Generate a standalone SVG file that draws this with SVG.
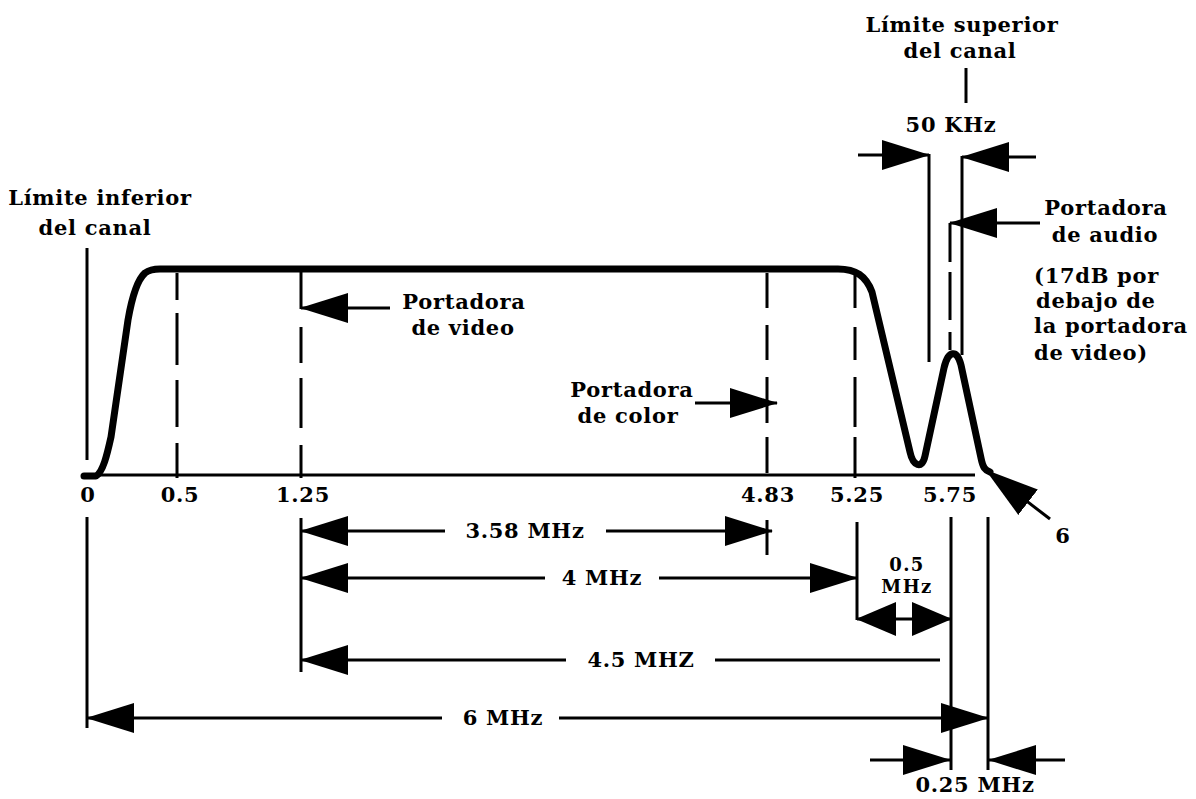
<svg xmlns="http://www.w3.org/2000/svg" width="1196" height="799" viewBox="0 0 1196 799">
<style>
text{font-family:"DejaVu Serif","Liberation Serif",serif;font-weight:bold;font-size:21px;letter-spacing:0.7px;fill:#000}
.m{text-anchor:middle}
.s{font-size:18px;letter-spacing:1.4px}
.ln{stroke:#000;stroke-width:3;fill:none}
.a{marker-end:url(#arr)}
.as{marker-end:url(#arrS)}
</style>
<defs>
<marker id="arr" markerUnits="userSpaceOnUse" viewBox="0 -16 48 32" markerWidth="48" markerHeight="32" refX="47" refY="0" orient="auto">
<path d="M0,-15 L48,0 L0,15 Z" fill="#000"/>
</marker>
<marker id="arrS" markerUnits="userSpaceOnUse" viewBox="0 -18 40 36" markerWidth="40" markerHeight="36" refX="39" refY="0" orient="auto">
<path d="M0,-17 L40,0 L0,17 Z" fill="#000"/>
</marker>
<marker id="arrL" markerUnits="userSpaceOnUse" viewBox="0 -18 54 36" markerWidth="54" markerHeight="36" refX="53" refY="0" orient="auto">
<path d="M0,-16 L54,0 L0,16 Z" fill="#000"/>
</marker>
</defs>
<rect width="1196" height="799" fill="#fff"/>

<g id="curve">
<path d="M84 476 L96 476 C103 472 107 455 111 437 L128 320 C132 297 137 280 145 273 C149 270 153 269 160 269 L838 269 C856 269 866 276 872 292 L910 452 C913 466 922 470 925 456 L944 368 C948 350 957 349 961 365 L981 458 C983 468 985 470 990 472" fill="none" stroke="#000" stroke-width="7" stroke-linejoin="round" stroke-linecap="round"/>
</g>

<g id="axis">
<line class="ln" x1="86" y1="475" x2="975" y2="475"/>
</g>

<g id="connectors">
<line class="ln" x1="87" y1="248" x2="87" y2="460"/>
<line class="ln" x1="177" y1="273" x2="177" y2="478" stroke-dasharray="27 13 52 15 47 16 35"/>
<line class="ln" x1="301" y1="269" x2="301" y2="309"/>
<line class="ln" x1="301" y1="327" x2="301" y2="478" stroke-dasharray="36 15 50 17 33"/>
<line class="ln" x1="767" y1="273" x2="767" y2="476" stroke-dasharray="35 17 35 17 46 14 36"/>
<line class="ln" x1="855" y1="275" x2="855" y2="478" stroke-dasharray="33 19 33 17 50 10 41"/>
<line class="ln" x1="950" y1="223" x2="950" y2="350" stroke-dasharray="39 10 48 12 20"/>
<line class="ln" x1="929" y1="154" x2="929" y2="362"/>
<line class="ln" x1="962" y1="156" x2="962" y2="355"/>
<line class="ln" x1="966" y1="68" x2="966" y2="103"/>
<line class="ln a" x1="858" y1="155" x2="929" y2="155"/>
<line class="ln a" x1="1036" y1="157" x2="962" y2="157"/>
<line class="ln a" x1="1040" y1="223" x2="950" y2="223"/>
<line class="ln a" x1="390" y1="308" x2="301" y2="308"/>
<line class="ln a" x1="695" y1="403" x2="777" y2="403"/>
<line class="ln" x1="1050" y1="519" x2="986" y2="470" marker-end="url(#arrL)"/>
<line class="ln" x1="87" y1="517" x2="87" y2="728"/>
<line class="ln" x1="301" y1="518" x2="301" y2="672"/>
<line class="ln" x1="767" y1="520" x2="767" y2="555"/>
<line class="ln" x1="857" y1="522" x2="857" y2="620"/>
<line class="ln" x1="951" y1="517" x2="951" y2="770"/>
<line class="ln" x1="988" y1="517" x2="988" y2="770"/>
<line class="ln a" x1="445" y1="531" x2="301" y2="531"/>
<line class="ln a" x1="606" y1="531" x2="772" y2="531"/>
<line class="ln a" x1="545" y1="578" x2="301" y2="578"/>
<line class="ln a" x1="659" y1="578" x2="857" y2="578"/>
<line class="ln a" x1="566" y1="660" x2="301" y2="660"/>
<line class="ln" x1="715" y1="660" x2="940" y2="660"/>
<line class="ln a" x1="442" y1="718" x2="87" y2="718"/>
<line class="ln a" x1="559" y1="718" x2="988" y2="718"/>
<line class="ln as" x1="905" y1="619" x2="857" y2="619"/>
<line class="ln as" x1="905" y1="619" x2="951" y2="619"/>
<line class="ln a" x1="870" y1="760" x2="950" y2="760"/>
<line class="ln a" x1="1065" y1="760" x2="989" y2="760"/>
</g>

<g id="label-upper-limit">
<text class="m" x="962" y="32">Límite superior</text>
<text class="m" x="960" y="58">del canal</text>
</g>
<g id="label-50khz"><text class="m" x="951" y="132">50 KHz</text></g>
<g id="label-lower-limit">
<text class="m" x="100" y="205">Límite inferior</text>
<text class="m" x="95" y="235">del canal</text>
</g>
<g id="label-video">
<text class="m" x="464" y="309">Portadora</text>
<text class="m" x="463" y="335">de video</text>
</g>
<g id="label-color">
<text class="m" x="632" y="397">Portadora</text>
<text class="m" x="628" y="423">de color</text>
</g>
<g id="label-audio">
<text class="m" x="1106" y="215">Portadora</text>
<text class="m" x="1105" y="242">de audio</text>
<text x="1034" y="283">(17dB por</text>
<text x="1036" y="308">debajo de</text>
<text x="1034" y="333">la portadora</text>
<text x="1034" y="360">de video)</text>
</g>
<g id="ticks">
<text class="m" x="88" y="502">0</text>
<text class="m" x="180" y="502">0.5</text>
<text class="m" x="303" y="502">1.25</text>
<text class="m" x="768" y="502">4.83</text>
<text class="m" x="857" y="502">5.25</text>
<text class="m" x="950" y="502">5.75</text>
<text class="m" x="1063" y="543">6</text>
</g>
<g id="dims">
<text class="m" x="525" y="538">3.58 MHz</text>
<text class="m" x="602" y="585">4 MHz</text>
<text class="m" x="641" y="667">4.5 MHZ</text>
<text class="m" x="503" y="725">6 MHz</text>
<text class="m s" x="907" y="571">0.5</text>
<text class="m s" x="907" y="593">MHz</text>
<text class="m" x="975" y="792">0.25 MHz</text>
</g>
</svg>
